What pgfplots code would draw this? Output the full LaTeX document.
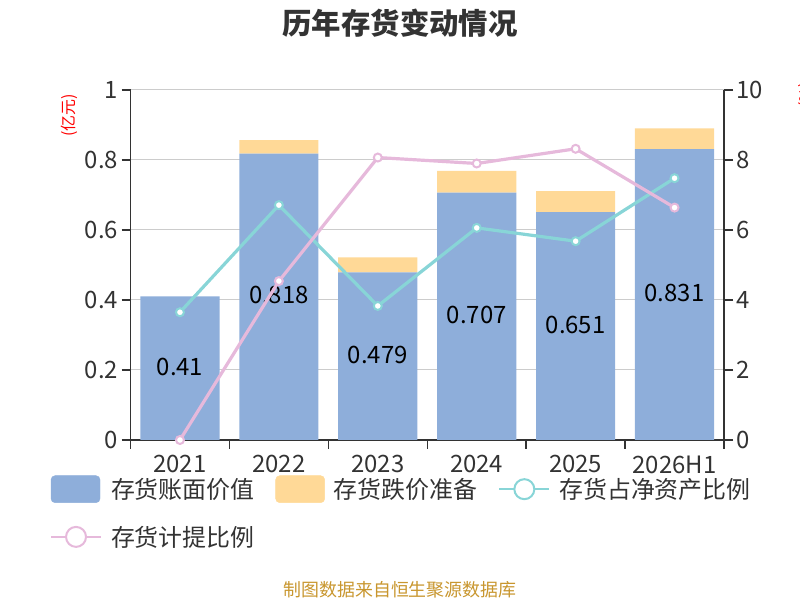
\documentclass[border=0pt]{standalone}
\usepackage{pgfplots}
\pgfplotsset{compat=1.18}
\usepackage{fontspec}
\setmainfont{Noto Sans CJK SC}
\definecolor{barblue}{HTML}{8EAEDA}
\definecolor{barorange}{HTML}{FFD997}
\definecolor{lineteal}{HTML}{88D5D7}
\definecolor{linepink}{HTML}{E6B9DB}
\definecolor{axisgray}{HTML}{333333}
\definecolor{gridgray}{HTML}{CCCCCC}
\definecolor{srccolor}{HTML}{C8962E}
\newcommand{\fs}[1]{\fontsize{#1}{#1}\selectfont}
\begin{document}
\begin{tikzpicture}[x=1bp,y=1bp]
\useasboundingbox (0,0) rectangle (800,600);
% bars
\begin{axis}[
  at={(130.5bp,160bp)}, anchor=south west, scale only axis,
  width=593.5bp, height=350bp,
  xmin=-0.5, xmax=5.5, ymin=0, ymax=1,
  ybar stacked, bar width=0.8,
  axis x line*=bottom, axis y line*=left,
  axis line style={draw=axisgray, line width=1.5bp, -},
  xtick={0,1,2,3,4,5},
  xticklabels={2021,2022,2023,2024,2025,2026H1},
  minor xtick={-0.5,0.5,1.5,2.5,3.5,4.5,5.5},
  major x tick style={draw=none},
  minor x tick style={draw=axisgray, line width=1.5bp},
  ytick={0,0.2,0.4,0.6,0.8,1},
  y tick style={draw=axisgray, line width=1.5bp},
  tick align=outside, major tick length=9bp, minor tick length=9bp,
  ymajorgrids, grid style={draw=gridgray, line width=1bp},
  /pgf/number format/.cd, fixed, precision=1, assume math mode=true,
  /pgfplots/.cd,
  tick label style={font=\fs{24}, text=axisgray},
  xticklabel style={yshift=-3bp},
]
\addplot+[fill=barblue, draw=none] coordinates {(0,0.41) (1,0.818) (2,0.479) (3,0.707) (4,0.651) (5,0.831)};
\addplot+[fill=barorange, draw=none] coordinates {(0,0) (1,0.039) (2,0.043) (3,0.062) (4,0.060) (5,0.059)};
\end{axis}
% bar labels
\begin{axis}[
  at={(130.5bp,160bp)}, anchor=south west, scale only axis,
  width=593.5bp, height=350bp,
  xmin=-0.5, xmax=5.5, ymin=0, ymax=1,
  hide axis,
]
\addplot[draw=none, mark=none, nodes near coords, point meta=explicit symbolic,
  every node near coord/.append style={anchor=center, font=\fs{24}, text=black}]
  coordinates {(0,0.209)[0.41] (1,0.413)[0.818] (2,0.2435)[0.479] (3,0.3575)[0.707] (4,0.3295)[0.651] (5,0.4195)[0.831]};
\end{axis}
% lines
\begin{axis}[
  at={(130.5bp,160bp)}, anchor=south west, scale only axis,
  width=593.5bp, height=350bp,
  xmin=-0.5, xmax=5.5, ymin=0, ymax=10,
  axis x line=none, axis y line*=right,
  axis line style={draw=axisgray, line width=1.5bp, -},
  ytick={0,2,4,6,8,10},
  y tick style={draw=axisgray, line width=1.5bp},
  tick align=outside, major tick length=9bp,
  /pgf/number format/assume math mode=true,
  tick label style={font=\fs{24}, text=axisgray},
  clip=false,
  legend columns=3,
  legend cell align=left,
  legend style={at={(-0.1356,-0.1014)}, anchor=north west, draw=none, fill=none,
    inner sep=0pt, outer sep=0pt, font=\fs{24}, text=axisgray,
    row sep=23bp,
    nodes={inner sep=0pt, outer sep=0pt},
    /tikz/every odd column/.append style={column sep=9bp},
    /tikz/every even column/.append style={column sep=21bp}},
]
\addlegendimage{legend image code/.code={\fill[barblue, rounded corners=4bp] (0bp,-13.5bp) rectangle (49bp,13.5bp);}}
\addlegendentry{存货账面价值}
\addlegendimage{legend image code/.code={\fill[barorange, rounded corners=4bp] (0bp,-13.5bp) rectangle (49bp,13.5bp);}}
\addlegendentry{存货跌价准备}
\addlegendimage{legend image code/.code={\draw[lineteal, line width=2bp] (0bp,0bp) -- (50bp,0bp); \draw[lineteal, line width=2bp, fill=white] (25bp,0bp) circle (10bp);}}
\addlegendentry{存货占净资产比例}
\addlegendimage{legend image code/.code={\draw[linepink, line width=2bp] (0bp,0bp) -- (50bp,0bp); \draw[linepink, line width=2bp, fill=white] (25bp,0bp) circle (10bp);}}
\addlegendentry{存货计提比例}
\addplot[lineteal, line width=3.2bp, mark=*, mark size=4bp, mark options={fill=white, draw=lineteal, line width=2bp}, forget plot]
  coordinates {(0,3.65) (1,6.71) (2,3.83) (3,6.06) (4,5.68) (5,7.48)};
\addplot[linepink, line width=3.2bp, mark=*, mark size=4bp, mark options={fill=white, draw=linepink, line width=2bp}, forget plot]
  coordinates {(0,0) (1,4.54) (2,8.07) (3,7.90) (4,8.32) (5,6.64)};
\end{axis}
\node[font=\fs{29.5}\bfseries, text=axisgray] at (400,577) {历年存货变动情况};
\node[font=\fs{16}, text=red, rotate=90] at (69,484.5) {(亿元)};
\node[font=\fs{16}, text=red, rotate=90] at (807,505) {(\%)};
\node[font=\fs{18}, text=srccolor] at (400,10) {制图数据来自恒生聚源数据库};
\end{tikzpicture}
\end{document}
